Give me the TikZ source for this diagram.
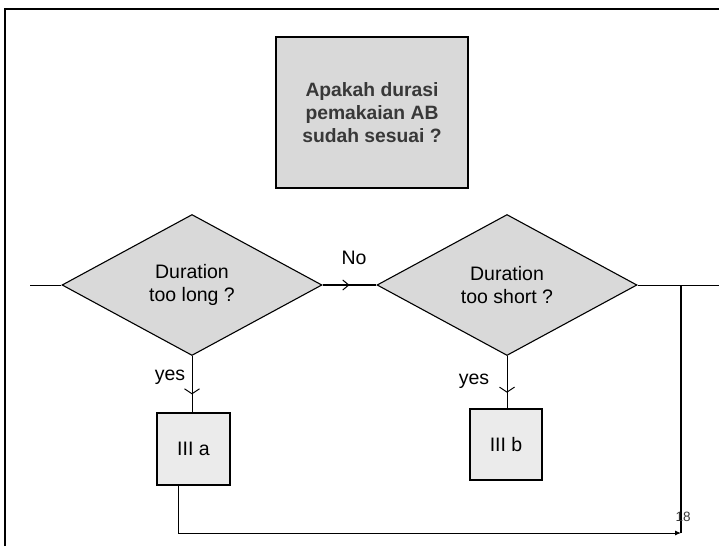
\documentclass[tikz,border=0pt]{standalone}
\usepackage{fontspec}
\setmainfont{Liberation Sans}
\usetikzlibrary{shapes.geometric,arrows.meta,decorations.markings}

\definecolor{qfill}{HTML}{D9D9D9}
\definecolor{bfill}{HTML}{EBEBEB}
\definecolor{qtext}{HTML}{383838}

\tikzset{
  lbl/.style={font=\fontsize{19.5}{23}\selectfont, align=center, inner sep=0pt},
  question/.style={rectangle, draw=black, line width=2pt, fill=qfill,
    minimum width=192pt, minimum height=151pt, inner sep=0pt, align=center,
    text=qtext, font=\fontsize{19.3}{23}\selectfont\bfseries},
  decision/.style={diamond, draw=black, line width=1.1pt, fill=qfill,
    minimum width=260pt, minimum height=141pt, inner sep=0pt, align=center,
    font=\fontsize{19.5}{23}\selectfont},
  outcome/.style={rectangle, draw=black, line width=1.1pt, fill=bfill,
    minimum width=72pt, minimum height=72pt, inner sep=0pt,
    font=\fontsize{19.5}{23}\selectfont},
  thinline/.style={line width=1pt},
  boldline/.style={line width=2.2pt},
  midbarb/.style 2 args={postaction={decorate, decoration={markings,
    mark=at position #1 with {\arrow[line width=1pt]{#2}}}}},
}

\begin{document}
\begin{tikzpicture}[x=1pt, y=-1pt]
  \useasboundingbox (0,0) rectangle (719,546);

  % page frame
  \draw[line width=2.6pt] (5,546) -- (5,9) -- (719,9);

  % question box
  \node[question] (q) at (372,112.5) {Apakah durasi\\pemakaian AB\\sudah sesuai ?};

  % decisions
  \node[decision] (d1) at (192,285) {Duration\\too long ?};
  \node[decision] (d2) at (507,285) {Duration\\too short ?};

  % outcomes
  \node[outcome, minimum width=73pt, minimum height=72pt] (b1) at (193.5,449) {III a};
  \node[outcome, minimum width=72pt, minimum height=71pt] (b2) at (506,444.5) {III b};

  % free ends of the lines
  \coordinate (in)  at (30,285);
  \coordinate (out) at (719,285);
  \coordinate (j)   at (681,285);
  \coordinate (k)   at (681,533);

  % connectors
  \draw[thinline] (in) -- (d1.west);
  \draw[boldline, midbarb={0.5}{Straight Barb[length=6pt,width=10pt]}] (d1.east) -- (d2.west);
  \draw[thinline] (d2.east) -- (out);
  \draw[boldline] (j) -- (k);
  \draw[thinline, midbarb={0.68}{Straight Barb[length=5pt,width=15pt]}] (d1.south) -- (d1.south |- b1.north);
  \draw[thinline, midbarb={0.70}{Straight Barb[length=5pt,width=15pt]}] (d2.south) -- (d2.south |- b2.north);
  \draw[thinline, -{Latex[length=6pt,width=5pt]}] ([xshift=-15.5pt]b1.south) |- (k);

  % labels
  \node[lbl] (no) at (354,258) {No};
  \node[lbl] (yes1) at (170,377) {yes};
  \node[lbl] (yes2) at (474,381) {yes};
  \node[font=\fontsize{13.5}{15}\selectfont, text=qtext, inner sep=0pt] (pg) at (683,517) {18};
\end{tikzpicture}
\end{document}
